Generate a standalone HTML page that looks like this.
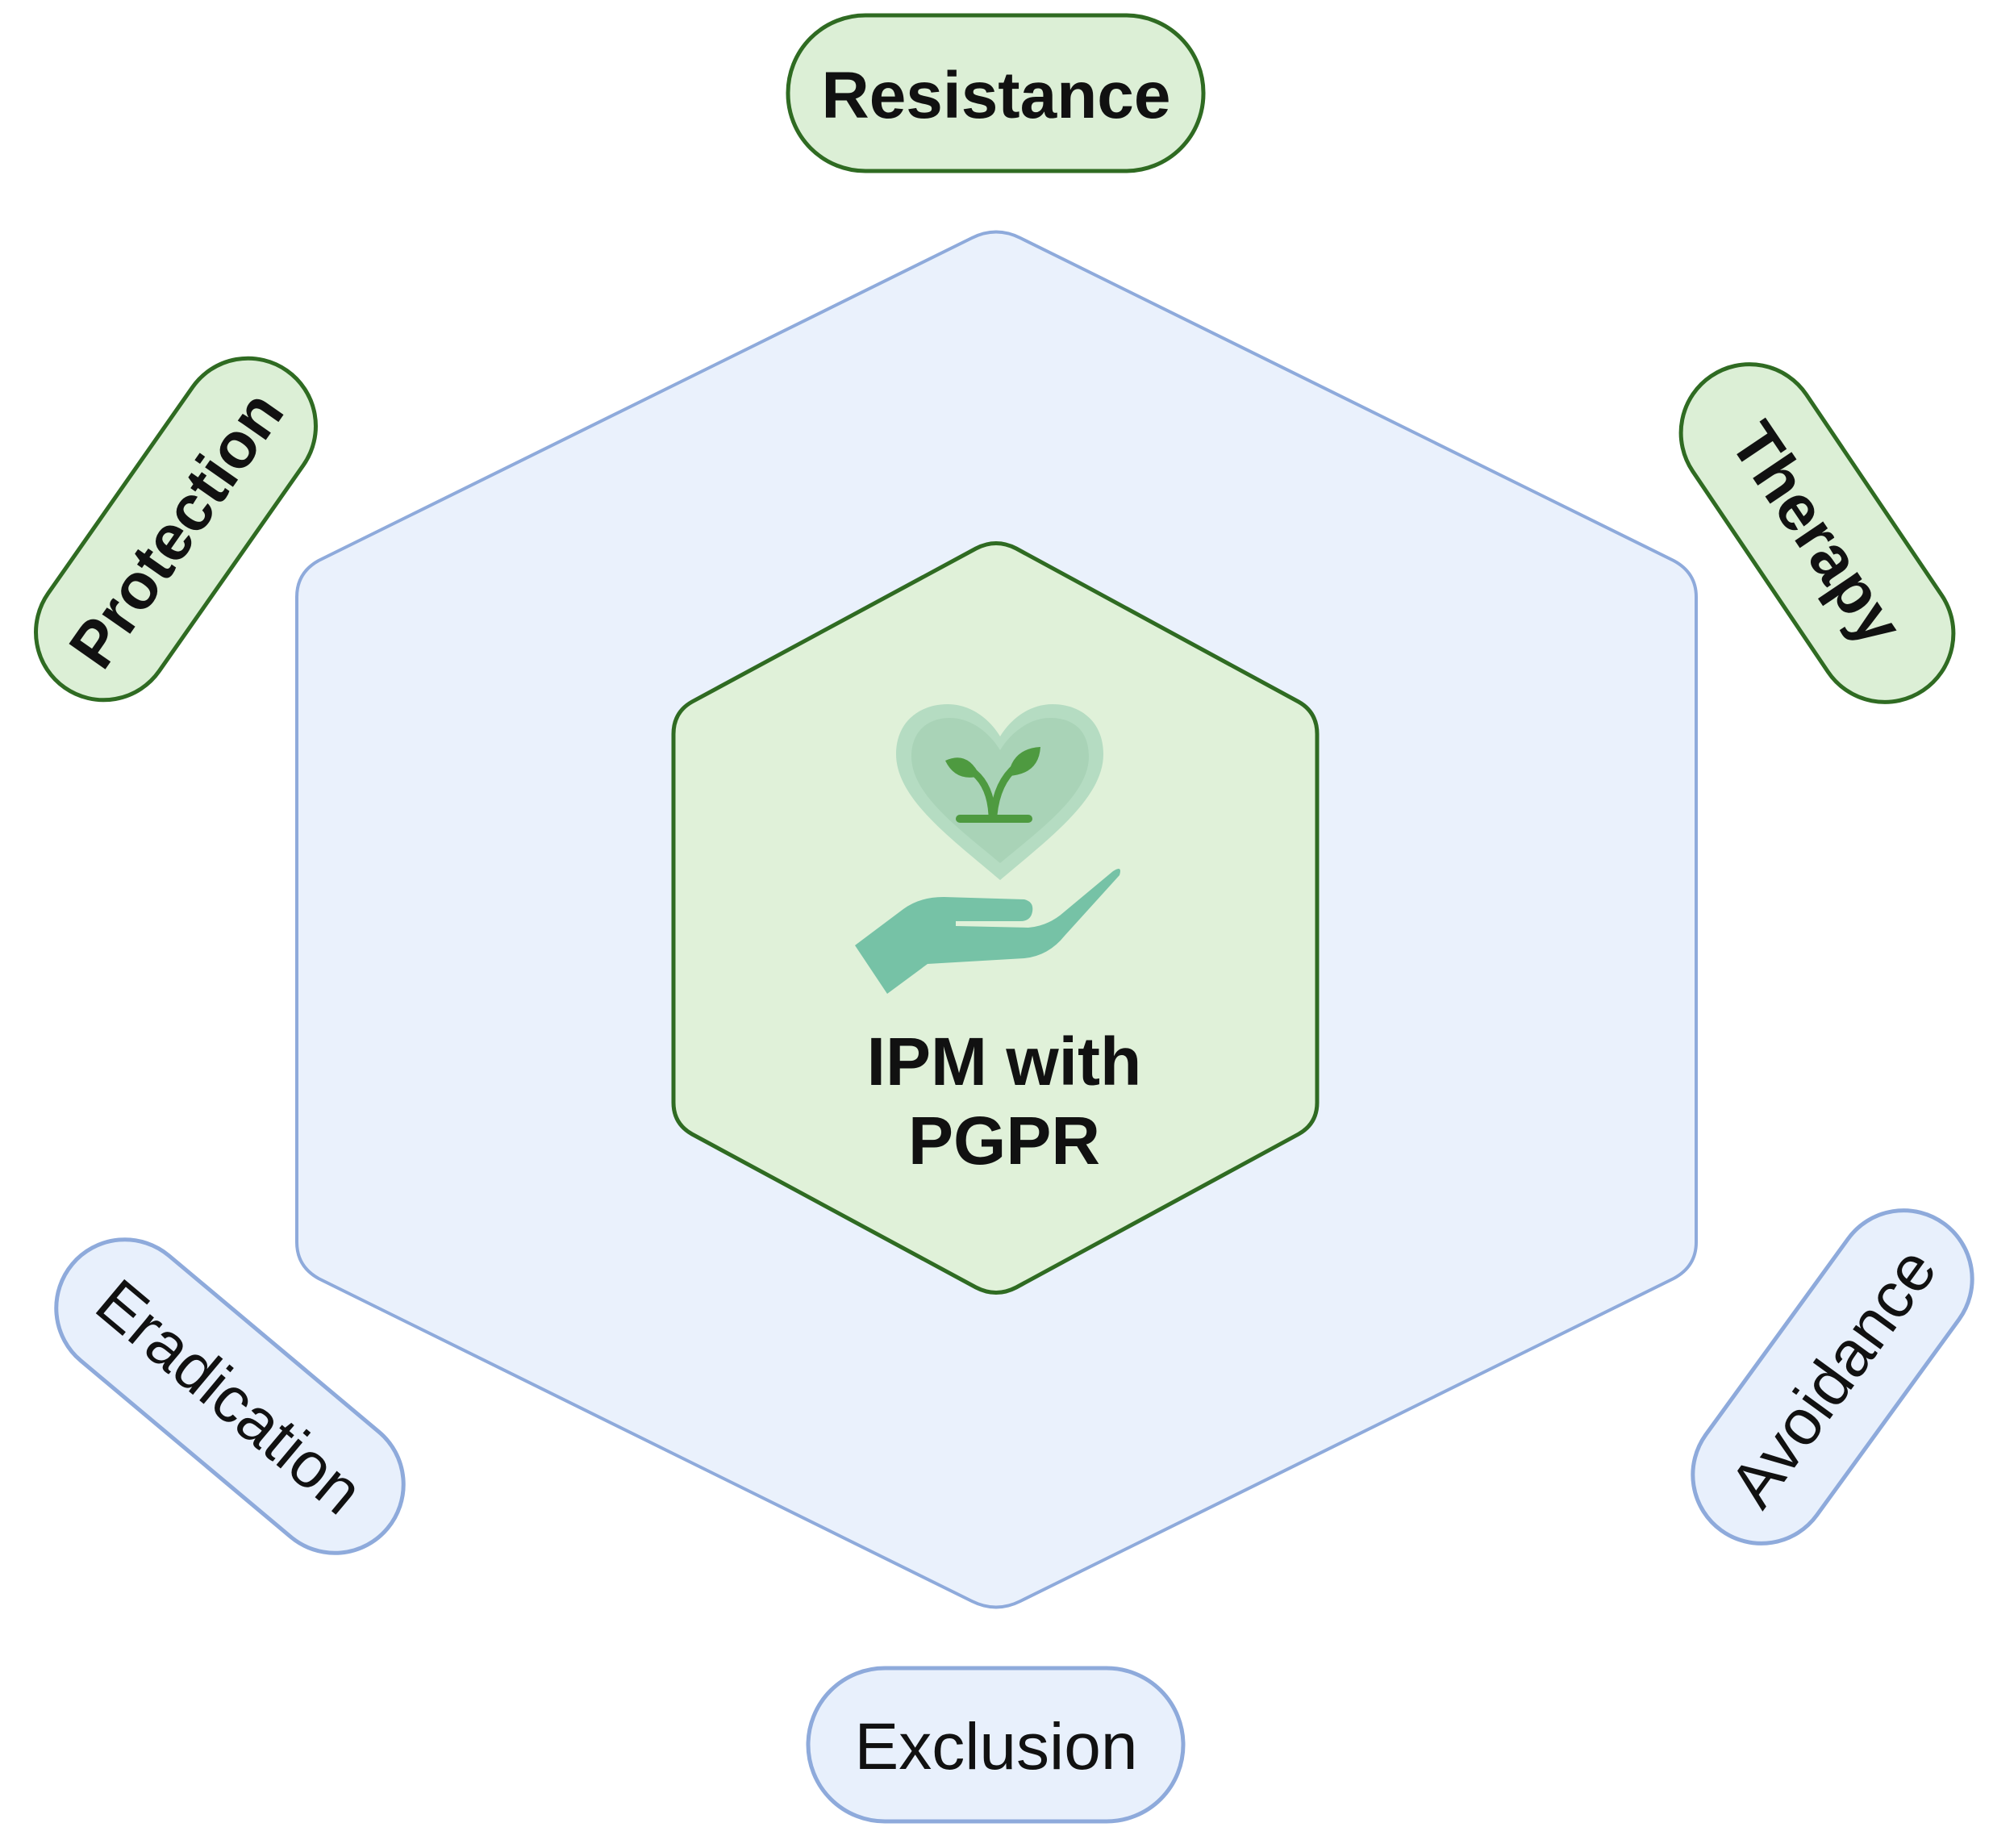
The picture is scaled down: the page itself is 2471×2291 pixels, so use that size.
<!DOCTYPE html>
<html><head><meta charset="utf-8"><style>
html,body{margin:0;padding:0;background:#fff}
svg{display:block}
text{font-family:"Liberation Sans",Arial,sans-serif}
</style></head><body>
<svg width="2471" height="2291" viewBox="0 0 2471 2291" xmlns="http://www.w3.org/2000/svg">
<path d="M1205,295 Q1235,280 1265,295 L2075,695 Q2103,710 2103,740 L2103,1540 Q2103,1570 2075,1585 L1265,1985 Q1235,2000 1205,1985 L395,1585 Q368,1570 368,1540 L368,740 Q368,710 395,695 Z" fill="#eaf1fc" stroke="#8eaadb" stroke-width="4"/>
<path d="M1210,680 Q1235,667 1260,680 L1610,870 Q1633,883 1633,910 L1633,1367 Q1633,1393 1610,1406 L1260,1596 Q1235,1609 1210,1596 L858,1406 Q835,1393 835,1367 L835,910 Q835,883 858,870 Z" fill="#e0f1d9" stroke="#2f6b22" stroke-width="5"/>
<path d="M1240,1091 C1180,1040 1111,990 1111,935 C1111,895 1140,873 1175,873 C1205,873 1228,893 1240,913 C1252,893 1275,873 1305,873 C1340,873 1368,895 1368,935 C1368,990 1300,1040 1240,1091 Z" fill="#b5dcc2"/>
<path d="M1240,1070 C1190,1028 1130,985 1130,938 C1130,905 1152,890 1178,890 C1205,890 1228,910 1240,930 C1252,910 1275,890 1302,890 C1330,890 1350,905 1350,938 C1350,985 1290,1028 1240,1070 Z" fill="#a9d3b7"/>
<path d="M1230,1010 Q1228,975 1208,958" stroke="#4e9a40" stroke-width="9" fill="none"/>
<path d="M1232,1010 Q1236,970 1260,950" stroke="#4e9a40" stroke-width="9" fill="none"/>
<path d="M1172,943 Q1200,930 1215,962 Q1185,970 1172,943 Z" fill="#4e9a40"/>
<path d="M1290,926 Q1288,960 1250,962 Q1255,928 1290,926 Z" fill="#4e9a40"/>
<rect x="1185" y="1010" width="95" height="10" rx="5" fill="#4e9a40"/>
<path d="M1060,1172 L1120,1127 Q1140,1112 1170,1112 L1270,1115 Q1282,1118 1280,1130 Q1278,1142 1265,1142 L1185,1142 L1185,1148 L1275,1150 Q1300,1148 1320,1130 L1380,1080 Q1392,1072 1388,1085 L1320,1160 Q1300,1185 1270,1188 L1150,1195 L1100,1232 Z" fill="#76c2a6"/>
<text x="1245" y="1345" font-size="84" font-weight="bold" text-anchor="middle" fill="#111">IPM with</text>
<text x="1245" y="1443" font-size="84" font-weight="bold" text-anchor="middle" fill="#111">PGPR</text>
<rect x="977" y="19" width="515" height="193" rx="96" fill="#dcefd6" stroke="#2f6b22" stroke-width="5"/>
<text x="1235" y="146" font-size="82" font-weight="bold" text-anchor="middle" fill="#111">Resistance</text>
<g transform="translate(218,656) rotate(-55)">
<rect x="-240" y="-84" width="480" height="168" rx="84" fill="#dcefd6" stroke="#2f6b22" stroke-width="5"/>
<text x="0" y="28" font-size="80" font-weight="bold" text-anchor="middle" fill="#111">Protection</text>
</g>
<g transform="translate(2253,661) rotate(56)">
<rect x="-235" y="-85" width="470" height="170" rx="85" fill="#dcefd6" stroke="#2f6b22" stroke-width="5"/>
<text x="0" y="28" font-size="80" font-weight="bold" text-anchor="middle" fill="#111">Therapy</text>
</g>
<g transform="translate(285,1731) rotate(40)">
<rect x="-255" y="-85" width="510" height="170" rx="85" fill="#e8f0fc" stroke="#8eaadb" stroke-width="5"/>
<text x="0" y="28" font-size="80" text-anchor="middle" fill="#111">Eradication</text>
</g>
<g transform="translate(2272,1707) rotate(-54)">
<rect x="-235" y="-85" width="470" height="170" rx="85" fill="#e8f0fc" stroke="#8eaadb" stroke-width="5"/>
<text x="0" y="28" font-size="80" text-anchor="middle" fill="#111">Avoidance</text>
</g>
<rect x="1002" y="2068" width="465" height="190" rx="95" fill="#e8f0fc" stroke="#8eaadb" stroke-width="5"/>
<text x="1235" y="2193" font-size="82" text-anchor="middle" fill="#111">Exclusion</text>
</svg>
</body></html>
